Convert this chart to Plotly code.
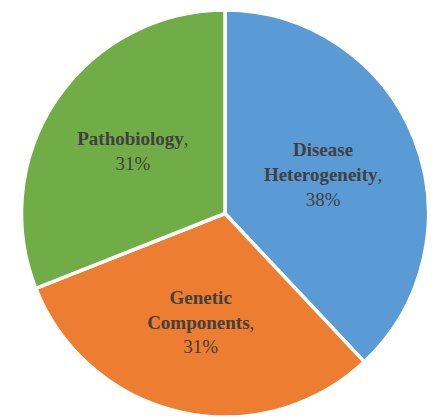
import plotly.graph_objects as go

categories = ["Disease Heterogeneity", "Genetic Components", "Pathobiology"]
label_lines = ["Disease<br>Heterogeneity", "Genetic<br>Components", "Pathobiology"]
values = [38, 31, 31]
colors = ["#5B9BD5", "#ED7D31", "#70AD47"]

texts = [f"<b>{l}</b>,<br>{v}%" for l, v in zip(label_lines, values)]

W, H = 429, 409  # page body has an 8px margin

fig = go.Figure(go.Pie(
    labels=categories,
    values=values,
    text=texts,
    textinfo="text",
    textposition="inside",
    insidetextorientation="horizontal",
    sort=False,
    direction="clockwise",
    rotation=0,
    marker=dict(colors=colors, line=dict(color="white", width=3.5)),
    textfont=dict(family="Liberation Serif", size=19, color="#404040"),
    domain=dict(x=[12 / W, 422 / W], y=[0, 1 - 2 / H]),
    hoverinfo="label+percent",
))

fig.update_layout(
    width=W, height=H,
    margin=dict(l=0, r=0, t=0, b=0),
    showlegend=False,
    paper_bgcolor="white",
)

fig.write_html("out.html")
